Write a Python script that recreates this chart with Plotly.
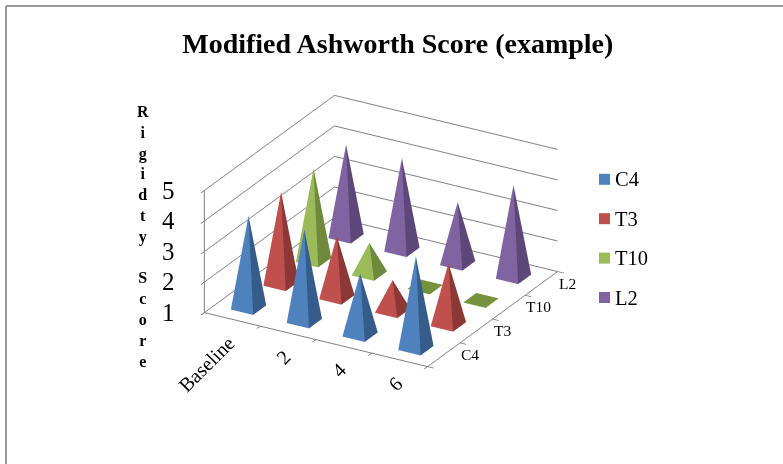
import plotly.graph_objects as go

title = "Modified Ashworth Score (example)"
z_title = "Rigidty Score"
categories = ["Baseline", "2", "4", "6"]
series_names = ["C4", "T3", "T10", "L2"]
c4 = [4, 4, 3, 4]
t3 = [4, 3, 2, 3]
t10 = [4, 2, 1, 1]
l2 = [4, 4, 3, 4]
z_ticks = [1, 2, 3, 4, 5]
series_values = [c4, t3, t10, l2]
light = ["#4F81BD", "#C0504D", "#9BBB59", "#8064A2"]
dark = ["#365C8C", "#8C3836", "#6F8A3C", "#5D4778"]
flat = "#76923C"
W = 0.4
PW, PH = 783, 464

fig = go.Figure()
for si, (name, vals) in enumerate(zip(series_names, series_values)):
    xs, ys, zs, ii, jj, kk, fc = [], [], [], [], [], [], []
    for ci, v in enumerate(vals):
        cx, cy = ci + 0.5, si + 0.5
        n = len(xs)
        xs += [cx - W / 2, cx + W / 2, cx + W / 2, cx - W / 2, cx]
        ys += [cy - W / 2, cy - W / 2, cy + W / 2, cy + W / 2, cy]
        zs += [1, 1, 1, 1, v]
        ii += [n, n + 1, n + 2, n + 3, n, n]
        jj += [n + 1, n + 2, n + 3, n, n + 1, n + 2]
        kk += [n + 4, n + 4, n + 4, n + 4, n + 2, n + 3]
        if v == 1:
            fc += [flat] * 6
        else:
            fc += [light[si], dark[si], dark[si], light[si], dark[si], dark[si]]
    fig.add_trace(go.Mesh3d(
        x=xs, y=ys, z=zs, i=ii, j=jj, k=kk, facecolor=fc, flatshading=True,
        lighting=dict(ambient=1, diffuse=0, specular=0, fresnel=0, roughness=1),
        showlegend=False, hoverinfo="skip", name=name))

serif = "Liberation Serif"
ann = []
for ci, c in enumerate(categories):
    ann.append(dict(x=ci + 0.5, y=0, z=1, text=c, showarrow=False, textangle=-45,
                    font=dict(family=serif, size=20, color="black"),
                    xanchor="right", yanchor="top", xshift=9, yshift=-10))
for si, s in enumerate(series_names):
    ann.append(dict(x=4, y=si + 0.5, z=1, text=s, showarrow=False,
                    font=dict(family=serif, size=15.5, color="black"),
                    xanchor="left", yanchor="middle", xshift=15, yshift=0))
for t in z_ticks:
    ann.append(dict(x=0, y=0, z=t, text=str(t), showarrow=False,
                    font=dict(family=serif, size=25, color="black"),
                    xanchor="right", yanchor="middle", xshift=-28, yshift=0))

paper_ann = [dict(xref="paper", yref="paper", x=143 / PW, y=1 - 236.5 / PH,
                  text="<br>".join(z_title), showarrow=False, xanchor="center", yanchor="middle",
                  font=dict(family=serif, size=16, color="black", weight="bold"))]
shapes = [dict(type="line", xref="paper", yref="paper", x0=6 / PW, x1=1, y0=1 - 6 / PH, y1=1 - 6 / PH,
               line=dict(color="#999999", width=2)),
          dict(type="line", xref="paper", yref="paper", x0=6 / PW, x1=6 / PW, y0=0, y1=1 - 6 / PH,
               line=dict(color="#999999", width=2))]
for si, s in enumerate(series_names):
    yc = 179.3 + si * 39.4
    shapes.append(dict(type="rect", xref="paper", yref="paper", x0=599 / PW, x1=610 / PW,
                       y0=1 - (yc - 5.5) / PH, y1=1 - (yc + 5.5) / PH,
                       fillcolor=light[si], line=dict(width=0)))
    paper_ann.append(dict(xref="paper", yref="paper", x=614 / PW, y=1 - yc / PH, text=s,
                          showarrow=False, xanchor="left", yanchor="middle", xshift=-1,
                          font=dict(family=serif, size=20.5, color="black")))

axis_common = dict(showbackground=False, showspikes=False, title="", zeroline=False,
                   showticklabels=True, tickfont=dict(size=1, color="rgba(0,0,0,0)"),
                   ticks="outside", ticklen=7, tickwidth=2, tickcolor="#777777",
                   linecolor="#808080", linewidth=2, showline=True)
r = 1.8
f = 1.377
fig.update_layout(
    width=PW, height=PH, margin=dict(l=0, r=0, t=0, b=0), showlegend=False,
    paper_bgcolor="white", font=dict(family=serif, color="black"),
    title=dict(text=title, x=0.508, xanchor="center", y=0.907, yanchor="middle",
               font=dict(family=serif, size=28, color="black", weight="bold")),
    scene=dict(
        domain=dict(x=[0.087, 0.887], y=[0.1, 0.906]),
        aspectmode="manual", aspectratio=dict(x=f, y=f * 260.6 / 257.3, z=f * 134.5 / 257.3),
        camera=dict(eye=dict(x=0.4526 * r, y=-0.7863 * r, z=0.4207 * r), up=dict(x=0, y=0, z=1),
                    center=dict(x=0, y=0, z=0), projection=dict(type="orthographic")),
        xaxis=dict(range=[0, 4], tickvals=[0, 1, 2, 3, 4], showgrid=False, **axis_common),
        yaxis=dict(range=[0, 4], tickvals=[0, 1, 2, 3, 4], showgrid=False, **axis_common),
        zaxis=dict(range=[1, 5], tickvals=z_ticks, showgrid=True, gridcolor="#808080", gridwidth=2,
                   **axis_common),
        annotations=ann,
    ),
    annotations=paper_ann,
    shapes=shapes,
)
fig.write_html("out.html", config=dict(displayModeBar=False),
               post_script="document.body.style.margin='0';")
